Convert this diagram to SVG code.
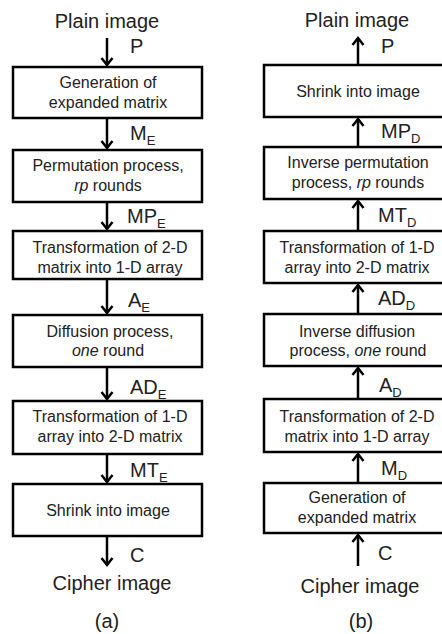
<svg xmlns="http://www.w3.org/2000/svg" width="442" height="634" viewBox="0 0 442 634">
<defs>
<style>
.box{fill:#fff;stroke:#000;stroke-width:2.5}
.t{font-family:"Liberation Sans",Arial,sans-serif;font-size:16px;fill:#222;text-anchor:middle}
.big{font-family:"Liberation Sans",Arial,sans-serif;font-size:20px;fill:#222;text-anchor:middle}
.lab{font-family:"Liberation Sans",Arial,sans-serif;font-size:20px;fill:#222}
.sub{font-size:13px}
.c{stroke:#000;stroke-width:2.5;fill:none;marker-end:url(#ah)}
</style>
<marker id="ah" markerUnits="userSpaceOnUse" markerWidth="16" markerHeight="16" viewBox="0 0 16 16" refX="8" refY="8" orient="auto" overflow="visible">
<path d="M1,2.5 L8,8 L1,13.5" fill="none" stroke="#000" stroke-width="2.5"/>
</marker>
</defs>
<rect width="442" height="634" fill="#fff"/>

<g id="connectors">
<line class="c" x1="107" y1="38" x2="107" y2="65"/>
<line class="c" x1="107" y1="118" x2="107" y2="148"/>
<line class="c" x1="107" y1="202" x2="107" y2="229"/>
<line class="c" x1="107" y1="279" x2="107" y2="313"/>
<line class="c" x1="107" y1="367" x2="107" y2="399"/>
<line class="c" x1="107" y1="454" x2="107" y2="482"/>
<line class="c" x1="107" y1="536" x2="107" y2="565"/>

<line class="c" x1="358" y1="65" x2="358" y2="38"/>
<line class="c" x1="358" y1="147" x2="358" y2="119"/>
<line class="c" x1="358" y1="231" x2="358" y2="201"/>
<line class="c" x1="358" y1="314" x2="358" y2="285"/>
<line class="c" x1="358" y1="399" x2="358" y2="368"/>
<line class="c" x1="358" y1="483" x2="358" y2="454"/>
<line class="c" x1="358" y1="566" x2="358" y2="535"/>
</g>

<g id="labels">
<text class="lab" x="130" y="53">P</text>
<text class="lab" x="130" y="140">M<tspan class="sub" dy="5">E</tspan></text>
<text class="lab" x="127" y="223">MP<tspan class="sub" dy="5">E</tspan></text>
<text class="lab" x="128" y="307">A<tspan class="sub" dy="5">E</tspan></text>
<text class="lab" x="130" y="394">AD<tspan class="sub" dy="5">E</tspan></text>
<text class="lab" x="130" y="477">MT<tspan class="sub" dy="5">E</tspan></text>
<text class="lab" x="130" y="562">C</text>

<text class="lab" x="381" y="53">P</text>
<text class="lab" x="381" y="138">MP<tspan class="sub" dy="5">D</tspan></text>
<text class="lab" x="378" y="222">MT<tspan class="sub" dy="5">D</tspan></text>
<text class="lab" x="378" y="305">AD<tspan class="sub" dy="5">D</tspan></text>
<text class="lab" x="379" y="392">A<tspan class="sub" dy="5">D</tspan></text>
<text class="lab" x="381" y="475">M<tspan class="sub" dy="5">D</tspan></text>
<text class="lab" x="378" y="560">C</text>
</g>

<g id="plain-a"><text class="big" x="107" y="28">Plain image</text></g>
<g id="a1"><rect class="box" x="13" y="67" width="189" height="51"/>
<text class="t" x="108" y="88">Generation of</text><text class="t" x="108" y="108">expanded matrix</text></g>
<g id="a2"><rect class="box" x="13" y="150" width="189" height="52"/>
<text class="t" x="108" y="171">Permutation process,</text><text class="t" x="108" y="191"><tspan font-style="italic">rp</tspan> rounds</text></g>
<g id="a3"><rect class="box" x="13" y="231" width="189" height="48"/>
<text class="t" x="110" y="253">Transformation of 2-D</text><text class="t" x="110" y="273">matrix into 1-D array</text></g>
<g id="a4"><rect class="box" x="13" y="315" width="189" height="52"/>
<text class="t" x="110" y="337">Diffusion process,</text><text class="t" x="108" y="356"><tspan font-style="italic">one</tspan> round</text></g>
<g id="a5"><rect class="box" x="13" y="401" width="189" height="53"/>
<text class="t" x="110" y="422">Transformation of 1-D</text><text class="t" x="110" y="442">array into 2-D matrix</text></g>
<g id="a6"><rect class="box" x="13" y="484" width="189" height="52"/>
<text class="t" x="108" y="516">Shrink into image</text></g>
<g id="cipher-a"><text class="big" x="112" y="590">Cipher image</text></g>
<text class="big" x="107" y="628">(a)</text>

<g id="plain-b"><text class="big" x="357" y="27">Plain image</text></g>
<g id="b1"><rect class="box" x="264" y="65" width="189" height="52"/>
<text class="t" x="358" y="97">Shrink into image</text></g>
<g id="b2"><rect class="box" x="264" y="147" width="189" height="52"/>
<text class="t" x="358" y="168">Inverse permutation</text><text class="t" x="358" y="188">process, <tspan font-style="italic">rp</tspan> rounds</text></g>
<g id="b3"><rect class="box" x="264" y="231" width="189" height="52"/>
<text class="t" x="357" y="253">Transformation of 1-D</text><text class="t" x="357" y="273">array into 2-D matrix</text></g>
<g id="b4"><rect class="box" x="264" y="314" width="189" height="52"/>
<text class="t" x="357" y="337">Inverse diffusion</text><text class="t" x="358" y="356">process, <tspan font-style="italic">one</tspan> round</text></g>
<g id="b5"><rect class="box" x="264" y="399" width="189" height="53"/>
<text class="t" x="357" y="422">Transformation of 2-D</text><text class="t" x="357" y="442">matrix into 1-D array</text></g>
<g id="b6"><rect class="box" x="264" y="483" width="189" height="50"/>
<text class="t" x="357" y="503">Generation of</text><text class="t" x="357" y="523">expanded matrix</text></g>
<g id="cipher-b"><text class="big" x="360" y="593">Cipher image</text></g>
<text class="big" x="361" y="628">(b)</text>
</svg>
